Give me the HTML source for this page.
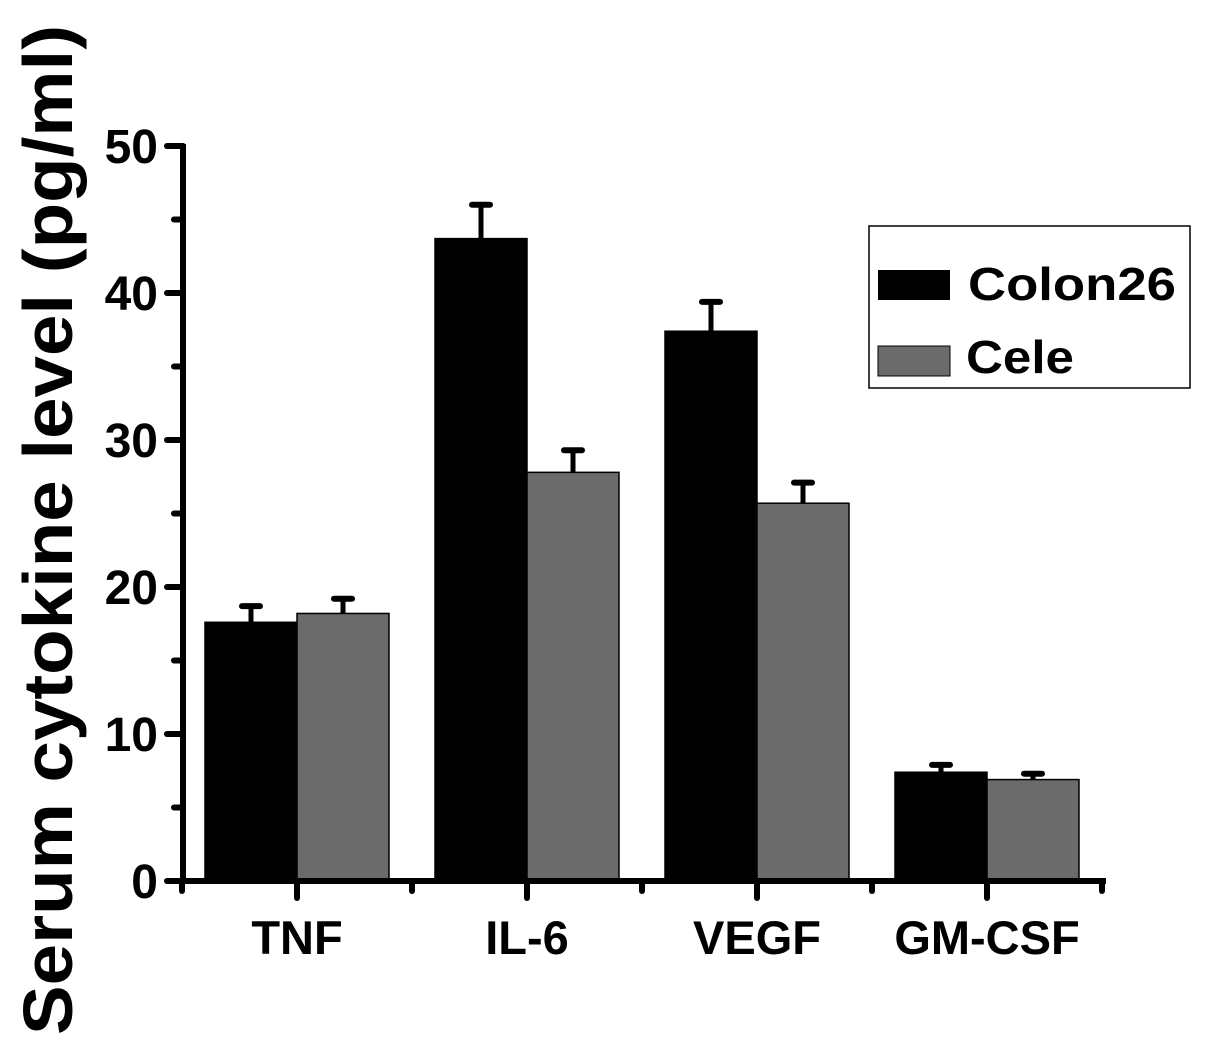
<!DOCTYPE html>
<html><head><meta charset="utf-8"><style>
html,body{margin:0;padding:0;background:#fff;}
svg text{font-family:"Liberation Sans",Arial,sans-serif;font-weight:bold;fill:#000;}
</style></head><body>
<svg id="chart" width="1205" height="1051" xmlns="http://www.w3.org/2000/svg">
<g id="marks"></g>
<g id="axes"></g>
<g>
<rect x="869" y="226" width="321" height="162" fill="#fff" stroke="#000" stroke-width="1.5"/>
<rect x="878" y="270" width="72" height="30" fill="#000"/>
<text x="968" y="300" font-size="46" textLength="208" lengthAdjust="spacingAndGlyphs">Colon26</text>
<rect x="878" y="346" width="72" height="30" fill="#6b6b6b" stroke="#000" stroke-width="1"/>
<text x="966" y="373" font-size="46" textLength="108" lengthAdjust="spacingAndGlyphs">Cele</text>
</g>
<text transform="translate(72,530) rotate(-90)" text-anchor="middle" font-size="70" textLength="1010" lengthAdjust="spacingAndGlyphs">Serum cytokine level (pg/ml)</text>
</svg>
<script>
const categories=["TNF","IL-6","VEGF","GM-CSF"];
const colonValues=[17.6,43.7,37.4,7.4];
const colonErrors=[1.1,2.3,2.0,0.5];
const celeValues=[18.2,27.8,25.7,6.9];
const celeErrors=[1.0,1.5,1.4,0.4];
const yTicks=[0,10,20,30,40,50];
const NS="http://www.w3.org/2000/svg";
const y0=881,yTop=146,yMax=50;
function yScale(v){return y0-(v/yMax)*(y0-yTop);}
function xCenter(i){return 297+i*230;}
const bw=92;
function mk(tag,attrs,parent){const e=document.createElementNS(NS,tag);for(const k in attrs)e.setAttribute(k,attrs[k]);parent.appendChild(e);return e;}
const marks=document.getElementById('marks'),axes=document.getElementById('axes');
function drawBar(i,val,err,left,fill,name){
  const x=left?xCenter(i)-bw:xCenter(i);
  const ex=x+bw/2;
  const l=mk('line',{x1:ex,x2:ex,y1:yScale(val),y2:yScale(val+err),stroke:'#000','stroke-width':5},marks);
  
  
  const c=mk('line',{x1:ex-9,x2:ex+9,y1:yScale(val+err),y2:yScale(val+err),stroke:'#000','stroke-width':6,'stroke-linecap':'round'},marks);
  
  
  const r=mk('rect',{x:x,y:yScale(val),width:bw,height:y0-yScale(val),fill:fill,stroke:'#000','stroke-width':1.5},marks);
  
  
}
categories.forEach((c,i)=>{
  drawBar(i,colonValues[i],colonErrors[i],true,'#000','bar-colon26-'+c.toLowerCase());
  drawBar(i,celeValues[i],celeErrors[i],false,'#6b6b6b','bar-cele-'+c.toLowerCase());
  const t=mk('text',{x:xCenter(i),y:954,'text-anchor':'middle','font-size':47},axes);
  t.textContent=c;
  
  
});
let a=mk('line',{x1:183,x2:183,y1:yTop-2,y2:y0+2,stroke:'#000','stroke-width':6},axes);


a=mk('line',{x1:168,x2:1106,y1:y0,y2:y0,stroke:'#000','stroke-width':6},axes);


yTicks.forEach(v=>{
  const t=mk('line',{x1:167,x2:183,y1:yScale(v),y2:yScale(v),stroke:'#000','stroke-width':6,'stroke-linecap':'round'},axes);
  
  
  if(v<yMax){const m=mk('line',{x1:174,x2:183,y1:yScale(v+5),y2:yScale(v+5),stroke:'#000','stroke-width':6,'stroke-linecap':'round'},axes);
  
  }
  const l=mk('text',{x:158,y:yScale(v)+17,'text-anchor':'end','font-size':48},axes);
  l.textContent=v;
  
  
});
categories.forEach((c,i)=>{
  const t=mk('line',{x1:xCenter(i),x2:xCenter(i),y1:y0,y2:y0+17,stroke:'#000','stroke-width':6,'stroke-linecap':'round'},axes);
  
  
});
for(let i=0;i<=categories.length;i++){
  const m=mk('line',{x1:xCenter(i)-115,x2:xCenter(i)-115,y1:y0,y2:y0+10,stroke:'#000','stroke-width':6,'stroke-linecap':'round'},axes);
  
  
}
</script>
</body></html>
